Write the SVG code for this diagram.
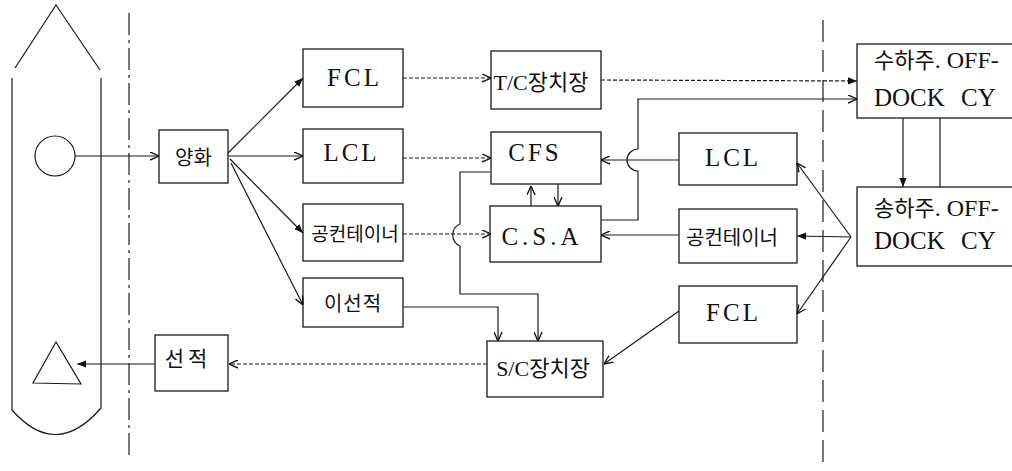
<svg xmlns="http://www.w3.org/2000/svg" width="1012" height="471" viewBox="0 0 1012 471">
<style>
.bx{fill:#fff;stroke:#1a1a1a;stroke-width:1.3}
.ln{fill:none;stroke:#1a1a1a;stroke-width:1.2}
.dt{fill:none;stroke:#1a1a1a;stroke-width:1.2;stroke-dasharray:4 2}
.lat{font-family:"Liberation Serif","Noto Sans CJK KR",serif;fill:#111}
.kr{font-family:"Noto Sans CJK KR","Liberation Serif",sans-serif;fill:#111}
</style>
<defs>
<marker id="ao" viewBox="0 0 10 10" refX="10" refY="5" markerWidth="9" markerHeight="9" orient="auto" markerUnits="userSpaceOnUse"><path d="M0,0.5 L10,5 L0,9.5" fill="none" stroke="#111" stroke-width="1.5"/></marker>
<marker id="af" viewBox="0 0 10 10" refX="10" refY="5" markerWidth="9" markerHeight="9" orient="auto" markerUnits="userSpaceOnUse"><path d="M0,1 L10,5 L0,9 Z" fill="#111"/></marker>
</defs>
<rect width="1012" height="471" fill="#fff"/>

<g id="boundaries">
<line x1="129" y1="13" x2="129" y2="460" class="ln" stroke-dasharray="22 5 3 5"/>
<line x1="823" y1="20" x2="823" y2="465" class="ln" stroke-dasharray="22 8"/>
</g>

<g id="ship">
<path d="M15,68 L56,5 L100,70" class="ln"/>
<path d="M12,78 L12,410 Q56,460 101,408 L101,78" class="ln"/>
</g>
<g id="circle"><circle cx="55" cy="156" r="20" class="ln"/></g>
<g id="triangle"><path d="M56,342 L33,383 L81,384 Z" class="ln"/></g>

<g id="n-yanghwa"><rect x="159" y="130" width="69" height="53" class="bx"/><text x="193.5" y="165" class="kr" font-size="20" text-anchor="middle">양화</text></g>
<g id="n-fcl1"><rect x="303" y="49" width="100" height="58" class="bx"/><text x="354.5" y="86" class="lat" font-size="25" letter-spacing="3" text-anchor="middle">FCL</text></g>
<g id="n-lcl1"><rect x="303" y="129" width="100" height="54" class="bx"/><text x="351.5" y="161" class="lat" font-size="25" letter-spacing="3" text-anchor="middle">LCL</text></g>
<g id="n-empty1"><rect x="303" y="204" width="100" height="57" class="bx"/><text x="355" y="241" class="kr" font-size="19" text-anchor="middle">공컨테이너</text></g>
<g id="n-transship"><rect x="303" y="278" width="100" height="49" class="bx"/><text x="353" y="311" class="kr" font-size="20" letter-spacing="1" text-anchor="middle">이선적</text></g>
<g id="n-tc"><rect x="491" y="51" width="110" height="58" class="bx"/><text x="541" y="90" class="lat" font-size="22" text-anchor="middle">T/C장치장</text></g>
<g id="n-cfs"><rect x="491" y="132" width="110" height="52" class="bx"/><text x="535" y="161" class="lat" font-size="25" letter-spacing="3" text-anchor="middle">CFS</text></g>
<g id="n-csa"><rect x="490" y="206" width="111" height="56" class="bx"/><text x="542" y="245" class="lat" font-size="25" letter-spacing="4" text-anchor="middle">C.S.A</text></g>
<g id="n-sc"><rect x="487" y="341" width="116" height="56" class="bx"/><text x="543" y="376" class="lat" font-size="22" text-anchor="middle">S/C장치장</text></g>
<g id="n-loading"><rect x="155" y="335" width="73" height="56" class="bx"/><text x="188" y="366" class="kr" font-size="21" letter-spacing="4" text-anchor="middle">선적</text></g>
<g id="n-lcl2"><rect x="679" y="133" width="118" height="52" class="bx"/><text x="733" y="166" class="lat" font-size="25" letter-spacing="3" text-anchor="middle">LCL</text></g>
<g id="n-empty2"><rect x="679" y="209" width="118" height="54" class="bx"/><text x="732" y="245" class="kr" font-size="20" text-anchor="middle">공컨테이너</text></g>
<g id="n-fcl2"><rect x="679" y="286" width="118" height="57" class="bx"/><text x="733.5" y="321" class="lat" font-size="25" letter-spacing="3" text-anchor="middle">FCL</text></g>
<g id="n-consignee"><rect x="857" y="44" width="170" height="74" class="bx"/><text x="874" y="68" class="lat"><tspan class="kr" font-size="22">수하주</tspan><tspan font-size="24">. OFF-</tspan></text><text x="874" y="106" class="lat" font-size="25">DOCK</text><text x="961" y="106" class="lat" font-size="25">CY</text></g>
<g id="n-shipper"><rect x="857" y="187" width="170" height="79" class="bx"/><text x="874" y="216" class="lat"><tspan class="kr" font-size="22">송하주</tspan><tspan font-size="24">. OFF-</tspan></text><text x="874" y="249" class="lat" font-size="25">DOCK</text><text x="961" y="249" class="lat" font-size="25">CY</text></g>

<g id="connectors">
<line x1="75" y1="156" x2="159" y2="156" class="ln" marker-end="url(#ao)"/>
<line x1="228" y1="153" x2="303" y2="78" class="ln" marker-end="url(#af)"/>
<line x1="228" y1="156" x2="303" y2="156" class="ln" marker-end="url(#ao)"/>
<line x1="230" y1="159" x2="303" y2="233" class="ln" marker-end="url(#af)"/>
<line x1="231" y1="163" x2="303" y2="305" class="ln" marker-end="url(#ao)"/>
<line x1="403" y1="78" x2="491" y2="78" class="dt" marker-end="url(#ao)"/>
<line x1="403" y1="158" x2="491" y2="158" class="dt" marker-end="url(#ao)"/>
<path d="M403,234 L491,234" class="dt" marker-end="url(#ao)"/>
<path d="M601,80 L857,81" class="dt" marker-end="url(#af)"/>
<path d="M601,220 L638,220 L638,171 A11 11 0 0 1 638,149 L638,99 L857,99" class="ln" marker-end="url(#ao)"/>
<line x1="679" y1="160" x2="601" y2="160" class="ln" marker-end="url(#ao)"/>
<line x1="679" y1="235" x2="601" y2="235" class="ln" marker-end="url(#ao)"/>
<path d="M490,172 L460,172 L460,224 A12 12 0 0 0 460,246 L460,294 L538,294 L538,341" class="ln" marker-end="url(#ao)"/>
<path d="M403,307 L498,307 L498,341" class="ln" marker-end="url(#ao)"/>
<line x1="531" y1="206" x2="531" y2="186" class="ln" marker-end="url(#ao)"/>
<line x1="558" y1="184" x2="558" y2="206" class="ln" marker-end="url(#ao)"/>
<line x1="851" y1="237" x2="797" y2="163" class="ln" marker-end="url(#ao)"/>
<line x1="851" y1="237" x2="797" y2="236" class="ln" marker-end="url(#af)"/>
<line x1="851" y1="237" x2="797" y2="314" class="ln" marker-end="url(#ao)"/>
<line x1="679" y1="311" x2="604" y2="364" class="ln" marker-end="url(#ao)"/>
<line x1="487" y1="364" x2="229" y2="364" class="dt" marker-end="url(#ao)"/>
<line x1="155" y1="364" x2="77" y2="364" class="ln" marker-end="url(#af)"/>
<line x1="903" y1="118" x2="903" y2="187" class="ln" marker-end="url(#af)"/>
<line x1="940" y1="118" x2="940" y2="187" class="ln"/>
</g>
</svg>
